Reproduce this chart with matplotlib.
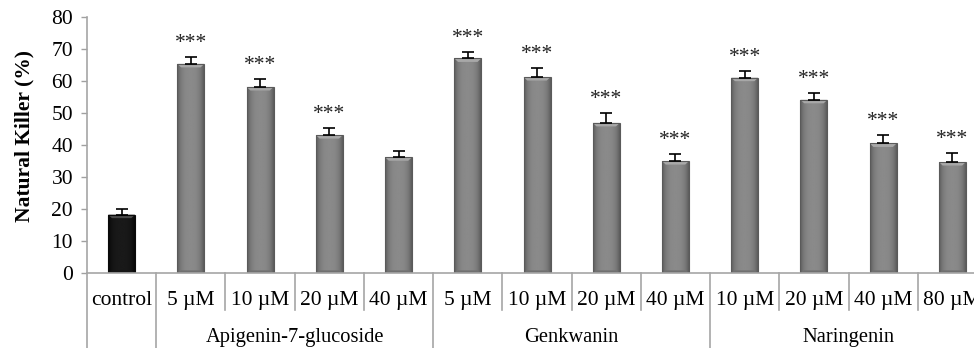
import numpy as np
import matplotlib
matplotlib.use("Agg")
import matplotlib.pyplot as plt
from matplotlib.patches import Polygon
from matplotlib.transforms import blended_transform_factory

# Natural killer cell activity (%) per treatment
categories = ["control",
              "5 µM", "10 µM", "20 µM", "40 µM",
              "5 µM", "10 µM", "20 µM", "40 µM",
              "10 µM", "20 µM", "40 µM", "80 µM"]
values = [18.3,
          65.3, 58.1, 43.1, 36.2,
          67.0, 61.2, 46.9, 35.0,
          61.0, 54.1, 40.5, 34.7]
errors = [1.7,
          2.2, 2.5, 2.3, 1.9,
          2.1, 2.9, 3.0, 2.1,
          2.1, 2.1, 2.7, 2.8]
significant = [False,
               True, True, True, False,
               True, True, True, True,
               True, True, True, True]
groups = ["Apigenin-7-glucoside", "Genkwanin", "Naringenin"]
group_sizes = [4, 4, 4]

plt.rcParams["font.family"] = ["Liberation Serif", "DejaVu Serif"]
FS = 15.5

fig = plt.figure(figsize=(9.74, 3.48), dpi=100)
ax = fig.add_axes([87 / 974, (348 - 273.3) / 348, 900 / 974, 256.6 / 348])

x = np.arange(len(categories))
width = 0.39
face = ["#1c1c1c"] + ["#7c7c7c"] * (len(categories) - 1)
bars = ax.bar(x, values, width=width, color=face, edgecolor="none", zorder=2)

# shaded, bevelled look for each bar
for i, b in enumerate(bars):
    dark = i == 0
    g = np.abs(np.linspace(-1, 1, 64))
    shade = (0.10 - 0.07 * g ** 3) if dark else (0.54 - 0.18 * g ** 3)
    img = np.tile(shade, (2, 1))
    x0, w, h = b.get_x(), b.get_width(), b.get_height()
    im = ax.imshow(img, cmap="gray", vmin=0, vmax=1, aspect="auto",
                   extent=[x0, x0 + w, 0, h], zorder=2.1, interpolation="bilinear")
    im.set_clip_path(b)
    bev = 1.1
    inset = w * 0.14
    top = Polygon([[x0, h], [x0 + w, h], [x0 + w - inset, h - bev], [x0 + inset, h - bev]],
                  closed=True, facecolor="#4a4a4a" if dark else "#a8a8a8",
                  edgecolor="none", zorder=2.2)
    ax.add_patch(top)
    bot = Polygon([[x0, 0], [x0 + w, 0], [x0 + w - inset, 0.9], [x0 + inset, 0.9]],
                  closed=True, facecolor="#151515" if dark else "#707070",
                  edgecolor="none", zorder=2.2)
    ax.add_patch(bot)
    ax.add_patch(plt.Rectangle((x0, 0), w, h, fill=False,
                               edgecolor="#0a0a0a" if dark else "#5a5a5a",
                               lw=0.8, zorder=2.3))

ax.errorbar(x, values, yerr=[np.zeros(len(values)), errors], fmt="none",
            ecolor="black", elinewidth=1.2, capsize=4.2, capthick=1.2, zorder=3)

for xi, v, e, s in zip(x, values, errors, significant):
    if s:
        ax.text(xi, v + e + 4.2, "***", ha="center", va="center",
                fontsize=FS, color="#222222", zorder=4)

ax.set_xlim(-0.5, len(categories) - 0.5)
ax.set_ylim(0, 80)
ax.set_yticks(np.arange(0, 81, 10))
ax.tick_params(axis="y", direction="out", length=4, width=1.0, color="#a0a0a0",
               labelsize=FS, pad=6)
ax.set_xticks([])
for side in ["top", "right"]:
    ax.spines[side].set_visible(False)
for side in ["left", "bottom"]:
    ax.spines[side].set_color("#a6a6a6")
    ax.spines[side].set_linewidth(1.2)

ax.set_ylabel("Natural Killer (%)", fontsize=FS, fontweight="bold")
ax.yaxis.set_label_coords(-0.058, 0.535)

# hierarchical category axis
tr = blended_transform_factory(ax.transData, ax.transAxes)
for xi, lab in zip(x, categories):
    ax.text(xi, -0.122, lab, transform=tr, ha="center", va="baseline", fontsize=FS)

bounds = [0.5]
for n in group_sizes:
    bounds.append(bounds[-1] + n)
full = set([-0.5] + bounds)
for b in np.arange(-0.5, len(categories), 1.0):
    y_end = -0.30 if b in full else -0.143
    ax.plot([b, b], [0, y_end], transform=tr, color="#a6a6a6", lw=1.2,
            clip_on=False, zorder=1)

for g, lo, hi in zip(groups, bounds[:-1], bounds[1:]):
    ax.text((lo + hi) / 2, -0.266, g, transform=tr, ha="center", va="baseline",
            fontsize=14.8)

fig.savefig("out.png", dpi=100)
